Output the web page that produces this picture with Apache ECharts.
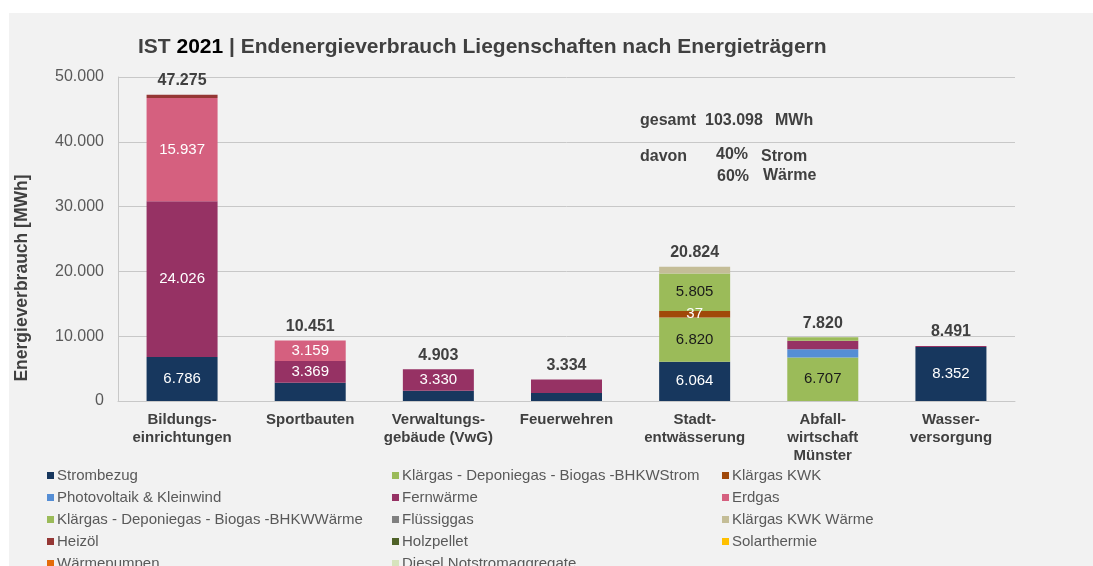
<!DOCTYPE html>
<html>
<head>
<meta charset="utf-8">
<script src="https://cdn.jsdelivr.net/npm/echarts@6/dist/echarts.min.js"></script>
<style>
html,body{margin:0;padding:0;background:#fff;}
#c{width:1093px;height:566px;}
</style>
</head>
<body>
<div id="c"></div>
<script>
// ---- data ----
var categories = ['Bildungs-\neinrichtungen', 'Sportbauten', 'Verwaltungs-\ngebäude (VwG)', 'Feuerwehren', 'Stadt-\nentwässerung', 'Abfall-\nwirtschaft\nMünster', 'Wasser-\nversorgung'];
var strombezug   = [6786, 2800, 1573, 1250, 6064, -120, 8352];
var bhkwStrom    = [0, 0, 0, 0, 6820, 6707, 0];
var klaergasKwk  = [0, 0, 0, 0, 1000, 0, 0];
var photovoltaik = [0, 0, 0, 0, 0, 1290, 0];
var fernwaerme   = [24026, 3369, 3330, 2084, 0, 1290, 139];
var erdgas       = [15937, 3159, 0, 0, 0, 0, 0];
var bhkwWaerme   = [0, 0, 0, 0, 5805, 570, 0];
var fluessiggas  = [0, 0, 0, 0, 0, 0, 0];
var kwkWaerme    = [0, 0, 0, 0, 1035, 0, 0];
var heizoel      = [526, 0, 0, 0, 0, 0, 0];
var holzpellet   = [0, 0, 0, 0, 0, 0, 0];
var solarthermie = [0, 0, 0, 0, 0, 0, 0];
var waermepumpen = [0, 0, 0, 0, 0, 0, 0];
var diesel       = [0, 0, 0, 0, 0, 0, 0];
var totals       = [47275, 10451, 4903, 3334, 20824, 7820, 8491];
var kwkLabels    = ['', '', '', '', '37', '', ''];
var yTicks       = [0, 10000, 20000, 30000, 40000, 50000];
var gesamt = '103.098', anteilStrom = '40%', anteilWaerme = '60%';
var legendColumns = [
  ['Strombezug', 'Photovoltaik & Kleinwind', 'Klärgas - Deponiegas - Biogas -BHKWWärme', 'Heizöl', 'Wärmepumpen'],
  ['Klärgas - Deponiegas - Biogas -BHKWStrom', 'Fernwärme', 'Flüssiggas', 'Holzpellet', 'Diesel Notstromaggregate'],
  ['Klärgas KWK', 'Erdgas', 'Klärgas KWK Wärme', 'Solarthermie']
];

var FONT = "'Liberation Sans', Arial, sans-serif";
function fmt(v){ return String(Math.round(v)).replace(/\B(?=(\d{3})+(?!\d))/g, '.'); }

function mk(name, color, data, labelColor, override){
  return {
    name: name, type: 'bar', stack: 'a', data: data, barWidth: 71,
    itemStyle: { color: color },
    label: {
      show: true, position: 'inside', color: labelColor || '#fff',
      fontFamily: FONT, fontSize: 15,
      formatter: function(p){
        if (override) return override[p.dataIndex];
        return p.value >= 3000 ? fmt(p.value) : '';
      }
    }
  };
}

var series = [
  mk('Strombezug', '#17375e', strombezug, '#fff'),
  mk('Klärgas - Deponiegas - Biogas -BHKWStrom', '#9bbb59', bhkwStrom, '#1a1a1a'),
  mk('Klärgas KWK', '#a0490a', klaergasKwk, '#fff', kwkLabels),
  mk('Photovoltaik & Kleinwind', '#558ed5', photovoltaik, '#fff'),
  mk('Fernwärme', '#963264', fernwaerme, '#fff'),
  mk('Erdgas', '#d5607f', erdgas, '#fff'),
  mk('Klärgas - Deponiegas - Biogas -BHKWWärme', '#9bbb59', bhkwWaerme, '#1a1a1a'),
  mk('Flüssiggas', '#808080', fluessiggas, '#fff'),
  mk('Klärgas KWK Wärme', '#c4bd97', kwkWaerme, '#1a1a1a'),
  mk('Heizöl', '#953735', heizoel, '#fff'),
  mk('Holzpellet', '#4f6228', holzpellet, '#fff'),
  mk('Solarthermie', '#ffc000', solarthermie, '#1a1a1a'),
  mk('Wärmepumpen', '#e46c0a', waermepumpen, '#fff'),
  mk('Diesel Notstromaggregate', '#d7e4bd', diesel, '#1a1a1a'),
  {
    name: 'Summe', type: 'bar', stack: 'a', barWidth: 71,
    data: totals.map(function(){ return 0; }),
    itemStyle: { color: 'transparent' },
    label: {
      show: true, position: 'top', distance: 6,
      fontFamily: FONT, fontSize: 16, fontWeight: 'bold', color: '#404040',
      formatter: function(p){ return fmt(totals[p.dataIndex]); }
    }
  }
];

var legendLefts = [47, 392, 722];
var legends = [];
legendColumns.forEach(function(col, ci){
  col.forEach(function(name, ri){
    legends.push({
      orient: 'horizontal', left: legendLefts[ci], top: 467.5 + ri * 22, padding: 0,
      itemWidth: 7, itemHeight: 7, icon: 'rect', selectedMode: false,
      textStyle: { fontFamily: FONT, fontSize: 15, color: '#595959', lineHeight: 16, padding: [0,0,0,-2] },
      data: [name]
    });
  });
});

function txt(x, y, s){
  return { type: 'text', x: x, y: y, silent: true,
    style: { text: s, fontFamily: FONT, fontSize: 16, fontWeight: 'bold', fill: '#404040', verticalAlign: 'middle' } };
}

var chart = echarts.init(document.getElementById('c'), null, { renderer: 'canvas' });
chart.setOption({
  animation: false,
  backgroundColor: '#ffffff',
  title: {
    left: 138, top: 37, padding: 0,
    text: '{a|IST }{b|2021}{a| | Endenergieverbrauch Liegenschaften nach Energieträgern}',
    textStyle: {
      rich: {
        a: { fontFamily: FONT, fontSize: 21, fontWeight: 'bold', color: '#404040' },
        b: { fontFamily: FONT, fontSize: 21, fontWeight: 'bold', color: '#000000' }
      }
    }
  },
  graphic: [
    { type: 'rect', z: -10, silent: true, shape: { x: 9, y: 13, width: 1084, height: 553 }, style: { fill: '#f2f2f2' } },
    { type: 'text', x: 22, y: 278, rotation: Math.PI / 2, silent: true,
      style: { text: 'Energieverbrauch [MWh]', fontFamily: FONT, fontSize: 17.5, fontWeight: 'bold', fill: '#404040', align: 'center', verticalAlign: 'middle' } },
    txt(640, 121, 'gesamt'),
    txt(705, 121, gesamt),
    txt(775, 121, 'MWh'),
    txt(640, 157, 'davon'),
    txt(716, 155, anteilStrom),
    txt(761, 157, 'Strom'),
    txt(717, 177, anteilWaerme),
    txt(763, 176, 'Wärme')
  ],
  legend: legends,
  grid: { left: 118, right: 78, top: 77, bottom: 165, containLabel: false },
  xAxis: {
    type: 'category', data: categories,
    axisTick: { show: false },
    axisLine: { lineStyle: { color: '#c8c8c8', width: 1 } },
    axisLabel: { interval: 0, margin: 10, fontFamily: FONT, fontSize: 15, fontWeight: 'bold', color: '#404040', lineHeight: 18 }
  },
  yAxis: {
    type: 'value', min: yTicks[0], max: yTicks[yTicks.length - 1], interval: 10000,
    axisLine: { show: true, lineStyle: { color: '#c8c8c8' } },
    axisTick: { show: false },
    splitLine: { lineStyle: { color: '#c8c8c8', width: 1 } },
    axisLabel: { margin: 14, fontFamily: FONT, fontSize: 16, color: '#595959', formatter: function(v){ return fmt(v); } }
  },
  series: series
});
</script>
</body>
</html>
